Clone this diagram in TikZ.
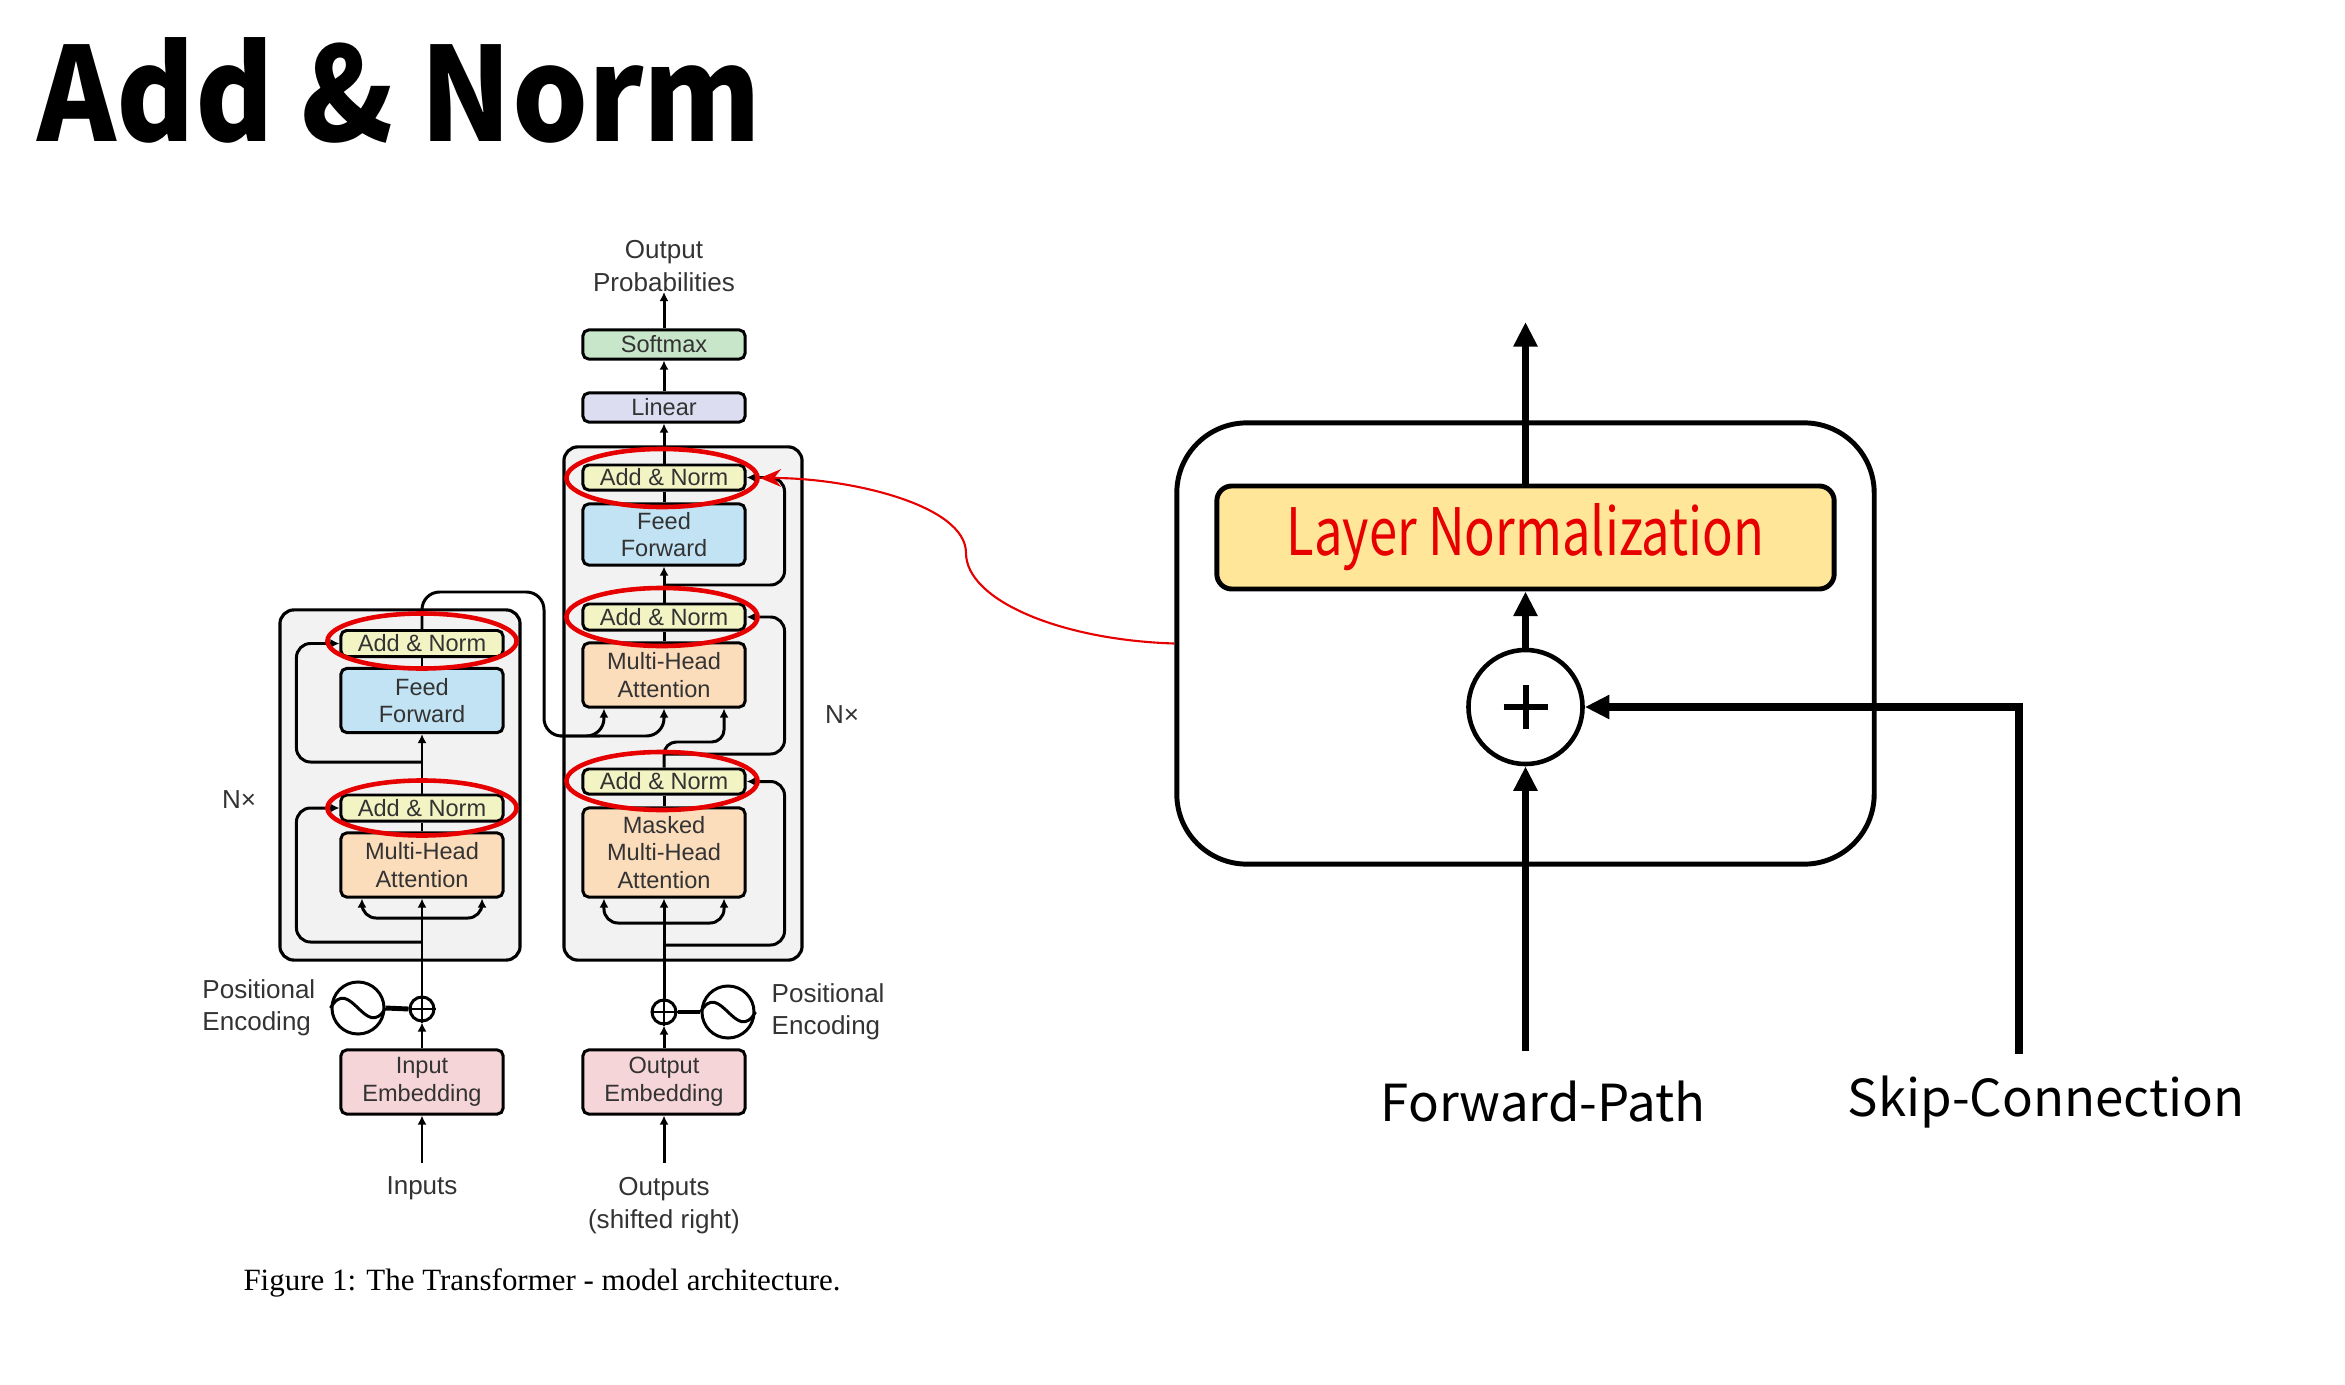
\documentclass[tikz,border=0pt]{standalone}
\usepackage{fontspec}
\usepackage{graphicx}
\usetikzlibrary{arrows.meta,calc,shapes.geometric}
\newfontfamily\kfont{Noto Sans CJK KR}
\newfontfamily\hfont{Liberation Sans}
\newfontfamily\tfont{Liberation Serif}
\definecolor{tgray}{HTML}{F2F2F2}
\definecolor{cAN}{HTML}{F2F4C3}
\definecolor{cFF}{HTML}{C2E3F4}
\definecolor{cMHA}{HTML}{FBDCBB}
\definecolor{cEmb}{HTML}{F6D5D8}
\definecolor{cSoft}{HTML}{C8E6CA}
\definecolor{cLin}{HTML}{DCDDF1}
\definecolor{lnfill}{HTML}{FFE699}
\definecolor{txtg}{HTML}{333333}
\definecolor{redc}{HTML}{E60000}
\begin{document}
\begin{tikzpicture}[x=0.01cm,y=-0.01cm,
  tbox/.style={draw, line width=0.85pt, rounded corners=1.6pt, minimum width=1.62cm, inner sep=0pt, align=center, font=\hfont\fontsize{6.7}{7.9}\selectfont, text=txtg},
  gbox/.style={draw, line width=0.9pt, fill=tgray, rounded corners=4pt, inner sep=0pt},
  tarr/.style={-{Latex[length=2.6pt,width=2.6pt]}, line width=0.85pt},
  tline/.style={line width=0.85pt},
  lbl/.style={font=\hfont\fontsize{7.4}{9.2}\selectfont, text=txtg, inner sep=0pt},
  redell/.style={draw=redc, line width=1.3pt, ellipse, inner sep=0pt},
  bigarr/.style={-{Triangle[length=7pt,width=6.5pt]}, line width=2.1pt},
  rtext/.style={font=\kfont\fontsize{14.5}{16}\selectfont, inner sep=0pt}
]
\useasboundingbox (0,0) rectangle (2345,1385);

% title
\node[anchor=base west, inner sep=0pt, font=\kfont\bfseries\fontsize{37}{40}\selectfont] (title) at (37,142) {\scalebox{0.918}[1]{Add \& Norm}};

% gray outer boxes
\node[gbox, minimum width=2.40cm, minimum height=3.50cm] (encbox) at (400,785) {};
\node[gbox, minimum width=2.38cm, minimum height=5.13cm] (decbox) at (683,703.5) {};

% encoder blocks
\node[tbox, fill=cAN, minimum height=0.26cm] (eAN2) at (422,643.5) {Add \& Norm};
\node[tbox, fill=cFF, minimum height=0.64cm] (eFF) at (422,700.5) {Feed\\Forward};
\node[tbox, fill=cAN, minimum height=0.26cm] (eAN1) at (422,808) {Add \& Norm};
\node[tbox, fill=cMHA, minimum height=0.64cm] (eMHA) at (422,865) {Multi-Head\\Attention};
\node[tbox, fill=cEmb, minimum height=0.64cm] (eEmb) at (422,1082) {Input\\Embedding};

% decoder blocks
\node[tbox, fill=cSoft, minimum height=0.29cm] (soft) at (664,344.5) {Softmax};
\node[tbox, fill=cLin, minimum height=0.29cm] (lin) at (664,407.5) {Linear};
\node[tbox, fill=cAN, minimum height=0.25cm] (dAN3) at (664,477.5) {Add \& Norm};
\node[tbox, fill=cFF, minimum height=0.61cm] (dFF) at (664,534.5) {Feed\\Forward};
\node[tbox, fill=cAN, minimum height=0.26cm] (dAN2) at (664,617) {Add \& Norm};
\node[tbox, fill=cMHA, minimum height=0.64cm] (dMHA) at (664,675) {Multi-Head\\Attention};
\node[tbox, fill=cAN, minimum height=0.25cm] (dAN1) at (664,781.5) {Add \& Norm};
\node[tbox, fill=cMHA, minimum height=0.89cm] (dMMHA) at (664,852.5) {Masked\\Multi-Head\\Attention};
\node[tbox, fill=cEmb, minimum height=0.64cm] (dEmb) at (664,1082) {Output\\Embedding};

% positional encodings
\node[circle, draw, line width=0.85pt, minimum size=0.24cm, inner sep=0pt] (eplus) at (422,1009) {};
\draw[line width=0.7pt] (eplus.north) -- (eplus.south) (eplus.west) -- (eplus.east);
\node[circle, draw, line width=0.85pt, minimum size=0.52cm, inner sep=0pt] (esin) at (358,1008) {};
\draw[line width=0.85pt] (esin.west) .. controls ($(esin)+(-8,-34)$) and ($(esin)+(8,34)$) .. (esin.east);
\draw[line width=1.4pt] (esin.east) -- (eplus.west);

\node[circle, draw, line width=0.85pt, minimum size=0.24cm, inner sep=0pt] (dplus) at (664,1012) {};
\draw[line width=0.7pt] (dplus.north) -- (dplus.south) (dplus.west) -- (dplus.east);
\node[circle, draw, line width=0.85pt, minimum size=0.52cm, inner sep=0pt] (dsin) at (728,1012) {};
\draw[line width=0.85pt] (dsin.west) .. controls ($(dsin)+(-8,-34)$) and ($(dsin)+(8,34)$) .. (dsin.east);
\draw[line width=1.4pt] (dplus.east) -- (dsin.west);

% labels
\node[lbl, align=left, anchor=east] (pel) at (316,1008) {Positional\\Encoding};
\node[lbl, align=left, anchor=west] (per) at (771,1012) {Positional\\Encoding};
\node[lbl, align=center] (inp) at (422,1188) {Inputs};
\node[lbl, align=center, anchor=north] (outp) at (664,1177) {Outputs\\(shifted right)};
\node[lbl, align=center, anchor=south] (oprob) at (664,292) {Output\\Probabilities};
\node[lbl] (nxl) at (239,800) {N\texttimes};
\node[lbl] (nxr) at (842,715) {N\texttimes};

% encoder connectors
\coordinate (ein) at (422,1163);
\draw[tarr] (ein) -- (eEmb.south);
\draw[tarr] (eEmb.north) -- (eplus.south);
\draw[tarr] (eplus.north) -- (eMHA.south);
\coordinate (eb3) at (422,918);
\draw[tarr, rounded corners=4pt] (eb3) -| ([xshift=-0.6cm]eMHA.south);
\draw[tarr, rounded corners=4pt] (eb3) -| ([xshift=0.6cm]eMHA.south);
\coordinate (eb2) at (422,942);
\draw[tarr, rounded corners=4pt] (eb2) -| ($(eAN1.west)+(-43,0)$) -- (eAN1.west);
\draw[tline] (eMHA.north) -- (eAN1.south);
\draw[tarr] (eAN1.north) -- (eFF.south);
\coordinate (eb1) at (422,762);
\draw[tarr, rounded corners=4pt] (eb1) -| ($(eAN2.west)+(-43,0)$) -- (eAN2.west);
\draw[tline] (eFF.north) -- (eAN2.south);
\draw[tline, rounded corners=5pt] (eAN2.north) |- (544,592) -- (544,736) -- (600,736);
\draw[tarr, rounded corners=5pt] (560,736) -| ([xshift=-0.6cm]dMHA.south);
\draw[tarr, rounded corners=5pt] (590,736) -| (dMHA.south);

% decoder connectors
\coordinate (din) at (664,1163);
\draw[tarr] (din) -- (dEmb.south);
\draw[tarr] (dEmb.north) -- (dplus.south);
\draw[tarr] (dplus.north) -- (dMMHA.south);
\coordinate (db4) at (664,923);
\draw[tarr, rounded corners=4pt] (db4) -| ([xshift=-0.6cm]dMMHA.south);
\draw[tarr, rounded corners=4pt] (db4) -| ([xshift=0.6cm]dMMHA.south);
\coordinate (db3) at (664,945);
\draw[tarr, rounded corners=4pt] (db3) -| ($(dAN1.east)+(38,0)$) -- (dAN1.east);
\draw[tline] (dMMHA.north) -- (dAN1.south);
\draw[tarr, rounded corners=3.5pt] (dAN1.north) -- (664,742) -| ([xshift=0.6cm]dMHA.south);
\coordinate (db2) at (664,754);
\draw[tarr, rounded corners=4pt] (db2) -| ($(dAN2.east)+(38,0)$) -- (dAN2.east);
\draw[tline] (dMHA.north) -- (dAN2.south);
\draw[tarr] (dAN2.north) -- (dFF.south);
\coordinate (db1) at (664,585);
\draw[tarr, rounded corners=4pt] (db1) -| ($(dAN3.east)+(38,0)$) -- (dAN3.east);
\draw[tline] (dFF.north) -- (dAN3.south);
\draw[tarr] (dAN3.north) -- (lin.south);
\draw[tarr] (lin.north) -- (soft.south);
\draw[tarr] (soft.north) -- (oprob.south);

% red ellipses
\node[redell, minimum width=1.89cm, minimum height=0.55cm] (r1) at (422,641) {};
\node[redell, minimum width=1.89cm, minimum height=0.55cm] (r2) at (422,808) {};
\node[redell, minimum width=1.91cm, minimum height=0.58cm] (r3) at (662,478) {};
\node[redell, minimum width=1.91cm, minimum height=0.58cm] (r4) at (662,617) {};
\node[redell, minimum width=1.91cm, minimum height=0.58cm] (r5) at (662,781) {};

% caption
\node[font=\tfont\fontsize{8.8}{10}\selectfont, inner sep=0pt] (cap) at (542,1283) {Figure 1: The Transformer - model architecture.};

% right diagram
\node[draw, line width=1.4pt, rounded corners=0.7cm, minimum width=6.97cm, minimum height=4.41cm, inner sep=0pt] (blk) at (1525.5,643.5) {};
\node[draw, fill=lnfill, line width=1.4pt, rounded corners=0.15cm, minimum width=6.17cm, minimum height=1.03cm, inner sep=0pt, text=redc, font=\kfont\fontsize{18.6}{20}\selectfont] (ln) at (1525.5,537.5) {\scalebox{0.775}[1]{Layer Normalization}};
\node[circle, draw, line width=1.3pt, minimum size=1.14cm, inner sep=0pt] (add) at (1525.5,707) {};
\draw[line width=1.7pt] ($(add)+(0,-22)$) -- ($(add)+(0,22)$) ($(add)+(-22,0)$) -- ($(add)+(22,0)$);
\coordinate (outr) at (1525.5,322);
\draw[bigarr] (ln.north) -- (outr);
\draw[bigarr] (add.north) -- (ln.south);
\coordinate (fwd) at (1525.5,1051);
\draw[bigarr] (fwd) -- (add.south);
\coordinate (skp) at (2019,1054);
\draw[bigarr] (skp) |- (add.east);
\node[rtext] (fl) at (1543,1102) {Forward-Path};
\node[rtext] (sl) at (2046,1102) {Skip-Connection};

% red pointer
\draw[redc, line width=0.6pt, -{Stealth[length=6pt,width=5pt]}] (blk.west) .. controls (1060,640) and (966,600) .. (966,553) .. controls (966,505) and (850,478) .. (r3.east);
\end{tikzpicture}
\end{document}
